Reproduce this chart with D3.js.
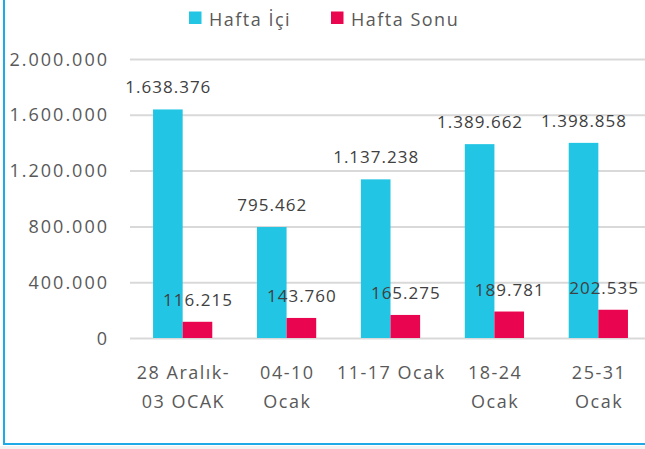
<!DOCTYPE html>
<html>
<head>
<meta charset="utf-8">
<script src="https://cdn.jsdelivr.net/npm/d3@7"></script>
<style>
  body { margin: 0; background: #fff; }
  svg text { font-family: 'Open Sans', sans-serif; fill: #595959; }
</style>
</head>
<body>
<div id="chart"></div>
<script>
// veriler
const categories = ['28 Aralık-03 OCAK', '04-10 Ocak', '11-17 Ocak', '18-24 Ocak', '25-31 Ocak']
const xLabels = [['28 Aralık-', '03 OCAK'], ['04-10', 'Ocak'], ['11-17 Ocak'], ['18-24', 'Ocak'], ['25-31', 'Ocak']]
const seriesNames = ['Hafta İçi', 'Hafta Sonu']
const haftaIci = [1638376, 795462, 1137238, 1389662, 1398858]
const haftaSonu = [116215, 143760, 165275, 189781, 202535]
const yTicks = [0, 400000, 800000, 1200000, 1600000, 2000000]

const width = 645
const height = 449
const colorArr = ['#23c5e4', '#e9054f']

const locale = d3.formatLocale({ decimal: ',', thousands: '.', grouping: [3], currency: ['', ''] })
const fmt = locale.format(',d')

let svg = d3.select('#chart').append('svg').attr('width', width).attr('height', height)

// kenarlık
svg.append('rect').attr('x', 0).attr('y', 446).attr('width', width).attr('height', 3).attr('fill', '#f2f2f2')
svg.append('line').attr('x1', 4).attr('x2', 4).attr('y1', 0).attr('y2', 445).attr('stroke', '#1eaae7').attr('stroke-width', 2)
svg.append('line').attr('x1', 3).attr('x2', width).attr('y1', 444).attr('y2', 444).attr('stroke', '#1eaae7').attr('stroke-width', 2)

// ölçekler
let ylinear = d3.scaleLinear().domain([0, 2000000]).range([338, 59])
let x0 = d3.scaleBand().domain(categories).range([130.7, 650.3]).paddingInner(0.43).paddingOuter(0.215)
let x1 = d3.scaleBand().domain(seriesNames).range([0, x0.bandwidth()])

// yatay çizgiler ve y ekseni
let yAxis = d3.axisLeft(ylinear).tickValues(yTicks).tickFormat(fmt).tickSize(0).tickPadding(0)
let yg = svg.append('g').attr('class', 'yAxis').attr('transform', 'translate(107,0)').call(yAxis)
yg.select('.domain').remove()
yg.selectAll('text').attr('font-size', '18px').attr('letter-spacing', '2px').attr('dy', '0.34em').attr('dx', '2px').style('fill', '#595959')
yg.selectAll('.tick').append('line').attr('x1', 23).attr('x2', width).attr('stroke', '#d9d9d9').attr('stroke-width', 2)

// sütunlar
const seriesData = [haftaIci, haftaSonu]
seriesData.forEach((values, si) => {
  let g = svg.append('g')
  g.selectAll('rect').data(values).enter().append('rect')
    .attr('x', (d, i) => x0(categories[i]) + x1(seriesNames[si]))
    .attr('y', d => ylinear(d))
    .attr('width', x1.bandwidth())
    .attr('height', d => ylinear(0) - ylinear(d))
    .attr('fill', colorArr[si])
})

// değer etiketleri (sağ kenara taşanlar içeri kaydırılır)
seriesData.forEach((values, si) => {
  svg.append('g').selectAll('text').data(values).enter().append('text')
    .attr('x', (d, i) => x0(categories[i]) + x1(seriesNames[si]) + x1.bandwidth() / 2 + 0.5)
    .attr('y', d => ylinear(d) - 16)
    .attr('text-anchor', 'middle')
    .attr('font-size', '17px')
    .attr('letter-spacing', '1px')
    .style('fill', '#404040')
    .text(d => fmt(d))
    .each(function () {
      let box = this.getBBox()
      let over = box.x + box.width - (width - 6)
      if (over > 0) d3.select(this).attr('x', +d3.select(this).attr('x') - over)
    })
})

// x ekseni etiketleri
let xg = svg.append('g')
xLabels.forEach((lines, i) => {
  let t = xg.append('text')
    .attr('text-anchor', 'middle')
    .attr('font-size', '18px')
    .attr('letter-spacing', '1.5px')
  lines.forEach((ln, li) => {
    t.append('tspan')
      .attr('x', x0(categories[i]) + x0.bandwidth() / 2 + 0.75)
      .attr('y', 379 + li * 29)
      .text(ln)
  })
})

// lejant
let legend = svg.append('g')
const legendX = [189, 331]
seriesNames.forEach((name, i) => {
  legend.append('rect').attr('x', legendX[i]).attr('y', 11.5).attr('width', 12.5).attr('height', 12.5).attr('fill', colorArr[i])
  legend.append('text').attr('x', legendX[i] + 20).attr('y', 26).attr('font-size', '18px').attr('letter-spacing', '1.5px').text(name)
})
</script>
</body>
</html>
